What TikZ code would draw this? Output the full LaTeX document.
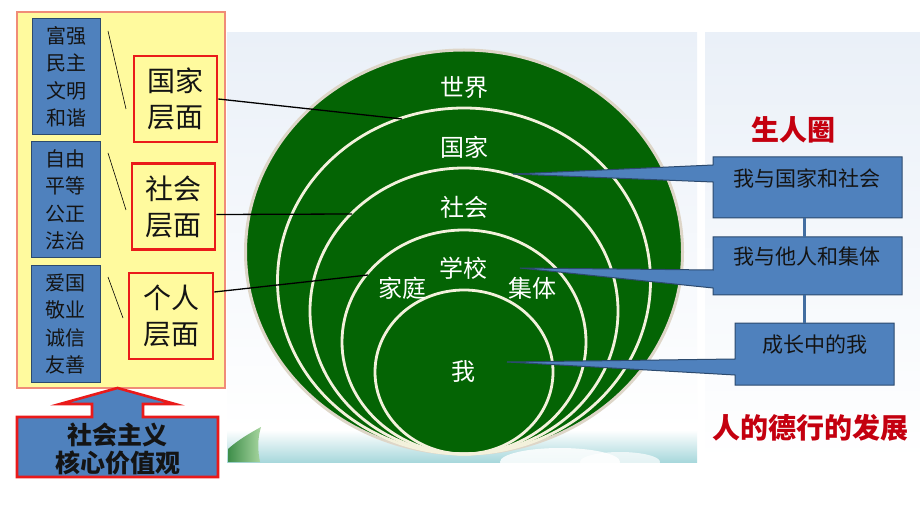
\documentclass[tikz,border=0pt]{standalone}
\usepackage{fontspec}
\newfontfamily\cjk{Noto Sans CJK SC}
\definecolor{ybg}{HTML}{FFFA9E}
\definecolor{salmon}{HTML}{F08C78}
\definecolor{bfill}{HTML}{4F81BD}
\definecolor{bline}{HTML}{2C4A6E}
\definecolor{rbox}{HTML}{EA1A1A}
\definecolor{dgreen}{RGB}{4,100,4}
\definecolor{cream}{HTML}{F3F1DC}
\definecolor{halo}{HTML}{DED6C8}
\definecolor{rtitle}{HTML}{C4000F}
\definecolor{panel}{HTML}{EAF0F8}
\definecolor{teal}{HTML}{A8D8DC}
\definecolor{leafA}{HTML}{3E8E4A}
\definecolor{leafB}{HTML}{A8D6A0}
\definecolor{ink}{HTML}{141414}
\begin{document}
\begin{tikzpicture}[x=1pt,y=-1pt,
  bluebox/.style={draw=bline,fill=bfill,line width=1pt,inner sep=0pt,align=center,text=ink,
    font=\cjk\fontsize{20}{27.5}\selectfont},
  redbox/.style={draw=rbox,fill=ybg,line width=2.6pt,inner sep=0pt,align=center,text=ink,
    minimum width=83pt,minimum height=86pt,font=\cjk\fontsize{28}{36}\selectfont},
  ringtext/.style={text=white,inner sep=0pt,font=\cjk\fontsize{24}{28}\selectfont},
  callout/.style={draw=bline,fill=bfill,line width=1pt,line join=miter},
  calltext/.style={text=ink,inner sep=0pt,font=\cjk\fontsize{21}{24}\selectfont},
  redtitle/.style={text=rtitle,inner sep=0pt,font=\cjk\bfseries\fontsize{28}{32}\selectfont},
  ring/.style={draw=cream,line width=2.8pt},
  conn/.style={draw=black,line width=1.3pt},
  slash/.style={draw=black,line width=0.6pt},
  vlink/.style={draw=bfill!85!black,line width=3pt}]
\useasboundingbox (0,0) rectangle (920,518);
\fill[white] (0,0) rectangle (920,518);

% background panels
\shade[top color=panel,bottom color=white] (227,33) rectangle (697,432);
\shade[top color=white,bottom color=teal] (227,430) rectangle (697,462);
\fill[white,opacity=0.85] (560,462) ellipse [x radius=60pt,y radius=14pt];
\fill[white,opacity=0.7] (620,462) ellipse [x radius=40pt,y radius=10pt];
\shade[top color=panel,bottom color=white] (705,33) rectangle (920,462);
\shade[left color=leafA,right color=leafB] (228,462) -- (228,449) .. controls (238,440) and (250,433) .. (261,427) .. controls (257,440) and (258,452) .. (260,462) -- cycle;

% circles
\fill[dgreen] (464,252) ellipse [x radius=218.5pt,y radius=202pt];
\draw[halo,line width=3pt] (464,252) ellipse [x radius=218.5pt,y radius=202pt];
\draw[ring] (464,281) ellipse [x radius=186.5pt,y radius=173pt];
\draw[ring] (464,311) ellipse [x radius=154pt,y radius=143pt];
\draw[ring] (464,342) ellipse [x radius=122pt,y radius=112pt];
\draw[ring] (464,372) ellipse [x radius=89pt,y radius=82pt];
\node[ringtext] (world) at (464,88) {世界};
\node[ringtext] (nation) at (464,147) {国家};
\node[ringtext] (society) at (464,207) {社会};
\node[ringtext] (school) at (463,268) {学校};
\node[ringtext] (family) at (402,288) {家庭};
\node[ringtext] (group) at (532,288) {集体};
\node[ringtext] (me) at (463,372) {我};
\coordinate (c1) at (402,119);
\coordinate (c2) at (352,214);
\coordinate (c3) at (368,275);

% left panel
\draw[salmon,fill=ybg,line width=1.5pt] (17,12) rectangle (225,388);
\node[bluebox,minimum width=68pt,minimum height=116pt] (v1) at (66,77) {富强\\民主\\文明\\和谐};
\node[bluebox,minimum width=69pt,minimum height=116pt] (v2) at (65.5,200) {自由\\平等\\公正\\法治};
\node[bluebox,minimum width=69pt,minimum height=116pt] (v3) at (65.5,324) {爱国\\敬业\\诚信\\友善};
\node[redbox] (r1) at (175.5,99) {国家\\层面};
\node[redbox] (r2) at (173.5,206.5) {社会\\层面};
\node[redbox,minimum width=84pt] (r3) at (171,316) {个人\\层面};
\coordinate (s1a) at (108,31); \coordinate (s1b) at (126,109);
\coordinate (s2a) at (108,153); \coordinate (s2b) at (126,210);
\coordinate (s3a) at (108,277); \coordinate (s3b) at (123,318);
\draw[slash] (s1a) -- (s1b);
\draw[slash] (s2a) -- (s2b);
\draw[slash] (s3a) -- (s3b);
\draw[conn] (r1.east) -- (c1);
\draw[conn] ([yshift=-8pt]r2.east) -- (c2);
\draw[conn] ([yshift=24pt]r3.east) -- (c3);

% bottom arrow box
\draw[rbox,fill=bfill,line width=2.6pt,line join=miter]
  (17,417) -- (92,417) -- (92,404) -- (60,404) -- (117.5,388) -- (175,404) -- (143,404) -- (143,417)
  -- (218,417) -- (218,477) -- (17,477) -- cycle;
\node[text=ink,inner sep=0pt,align=center,font=\cjk\bfseries\fontsize{25}{28}\selectfont] (core) at (117.5,449) {社会主义\\核心价值观};

% right callouts
\draw[callout] (713,157) -- (902,157) -- (902,218) -- (713,218) -- (713,182) -- (513,174) -- (713,165) -- cycle;
\draw[callout] (713,237) -- (902,237) -- (902,295) -- (713,295) -- (713,288) -- (520,268) -- (713,270) -- cycle;
\draw[callout] (735,323) -- (894,323) -- (894,385) -- (735,385) -- (735,375) -- (507,362) -- (735,359) -- cycle;
\node[inner sep=0pt,minimum width=189pt,minimum height=61pt] (bA) at (807.5,187.5) {};
\node[inner sep=0pt,minimum width=189pt,minimum height=58pt] (bB) at (807.5,266) {};
\node[inner sep=0pt,minimum width=159pt,minimum height=62pt] (bC) at (814.5,354) {};
\node[calltext] (tA) at (807,178) {我与国家和社会};
\node[calltext] (tB) at (807,257) {我与他人和集体};
\node[calltext] (tC) at (815,345) {成长中的我};
\coordinate (lA) at ([xshift=-3.5pt]bA.south);
\coordinate (lB1) at ([xshift=-3.5pt]bB.north);
\coordinate (lB2) at ([xshift=-3.5pt]bB.south);
\draw[vlink] (lA) -- (lB1);
\draw[vlink] (lB2) -- (lB2 |- bC.north);
\node[redtitle] (t1) at (793,130) {生人圈};
\node[redtitle] (t2) at (810,428) {人的德行的发展};
\end{tikzpicture}
\end{document}
